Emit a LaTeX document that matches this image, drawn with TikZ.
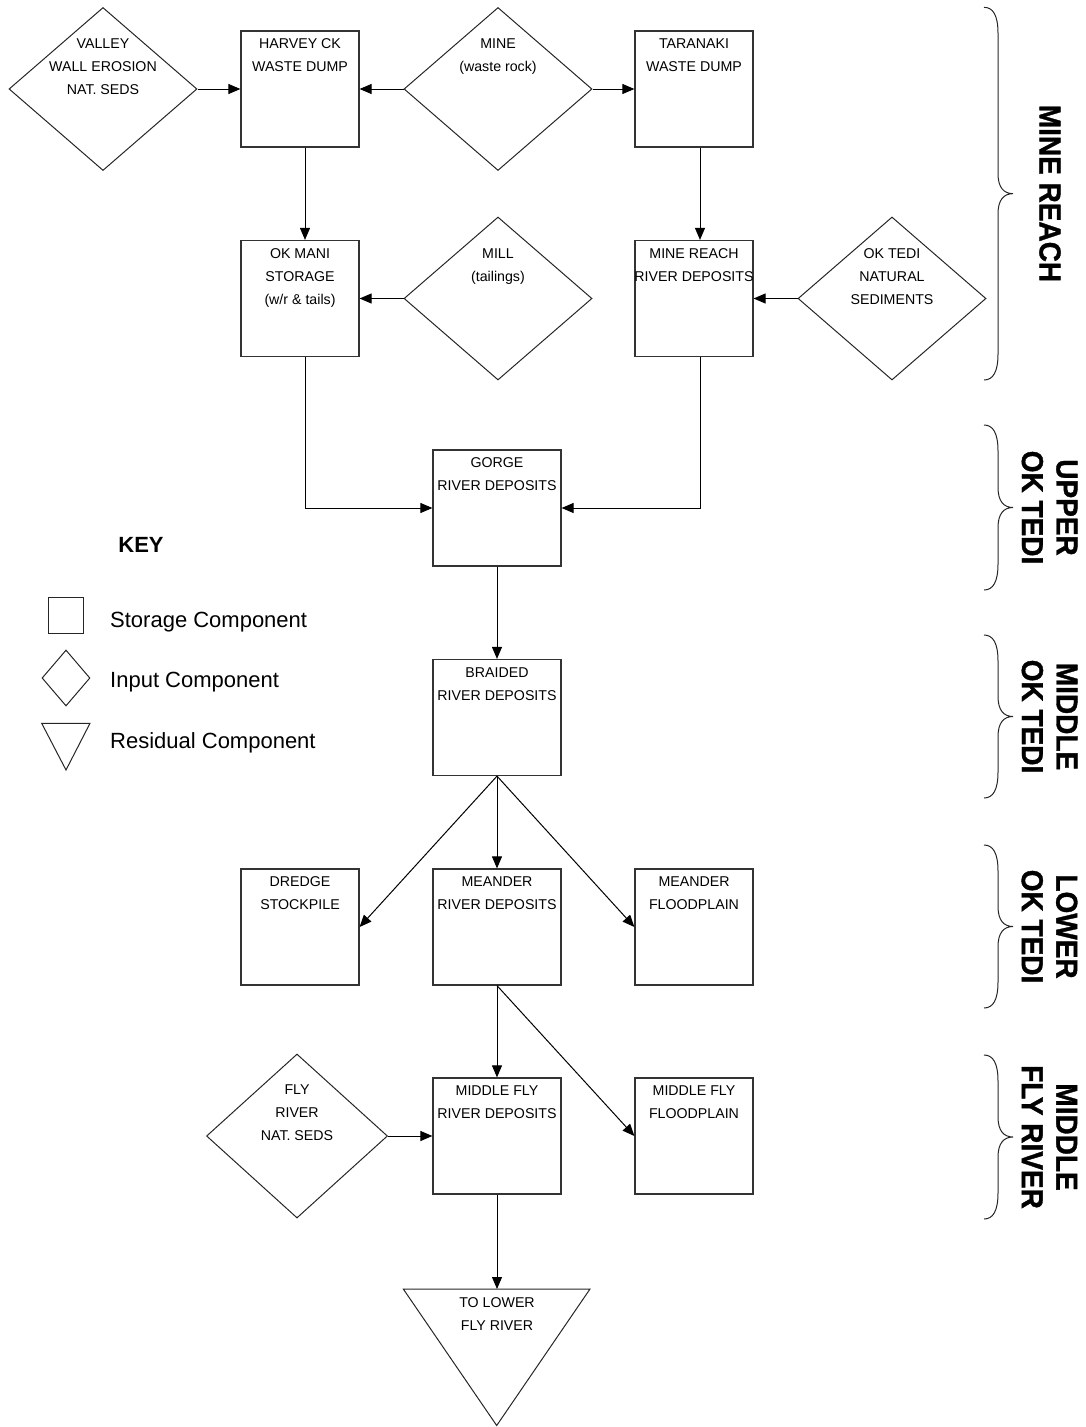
\documentclass[tikz,border=0pt]{standalone}
\usepackage{fontspec}
\setmainfont{Liberation Sans}
\newfontfamily\reachfont[FakeBold=1.2]{Liberation Sans Bold}
\usetikzlibrary{shapes.geometric,arrows.meta}
\newcommand\myBrace[2]{%
  \pgfmathsetmacro\tipy{(#1+#2)/2}%
  \draw[bracestyle] (984,#1) .. controls (993,#1) and (998,#1+8) .. (998,#1+26)
    -- (998,\tipy-20) .. controls (998,\tipy-6) and (1004,\tipy) .. (1013,\tipy)
    .. controls (1004,\tipy) and (998,\tipy+6) .. (998,\tipy+20)
    -- (998,#2-26) .. controls (998,#2-8) and (993,#2) .. (984,#2);%
}
\begin{document}
\begin{tikzpicture}[x=1pt,y=-1pt,
  box/.style={draw=black!80, line width=1.2pt, minimum width=118pt, minimum height=116pt, inner sep=0pt},
  wbox/.style={box, minimum width=128pt},
  dia/.style={draw=black!85, line width=1pt, diamond, inner sep=0pt, minimum width=188pt, minimum height=163pt},
  lbl/.style={anchor=north, inner sep=0pt, align=center, font=\fontsize{14.2}{23}\selectfont},
  arr/.style={line width=1pt, -{Triangle[length=12pt,width=10pt]}},
  reach/.style={rotate=-90, yscale=1.08, align=center, inner sep=0pt, font=\fontsize{28}{32}\selectfont\reachfont},
  bracestyle/.style={line width=1pt, black!85},
  keytxt/.style={anchor=base west, inner sep=0pt, font=\fontsize{22}{22}\selectfont}
]
\useasboundingbox (0,0) rectangle (1085,1427);

% storage boxes
\node[box]  (harvey)    at (300,89)    {};
\node[box]  (taranaki)  at (694,89)    {};
\node[box]  (okmani)    at (300,298.5) {};
\node[box]  (minereach) at (694,298.5) {};
\node[wbox] (gorge)     at (497,508)   {};
\node[wbox] (braided)   at (497,717.5) {};
\node[box]  (dredge)    at (300,927)   {};
\node[wbox] (meander)   at (497,927)   {};
\node[box]  (meanfp)    at (694,927)   {};
\node[wbox] (midfly)    at (497,1136)  {};
\node[box]  (midflyfp)  at (694,1136)  {};

% input diamonds
\node[dia] (valley) at (103,89)    {};
\node[dia] (mine)   at (498,89)    {};
\node[dia] (mill)   at (498,298.5) {};
\node[dia] (oktedi) at (892,298.5) {};
\node[dia, minimum width=181pt, minimum height=164pt] (fly) at (297,1136) {};

% residual triangle
\draw[draw=black!85, line width=1pt] (403.3,1289) -- (590,1289) -- (496.7,1425.5) -- cycle;
\coordinate (tritop) at (497,1289);

% labels in boxes
\node[lbl] (harveyT)    at ([yshift=-8pt]harvey.north)    {\rule{0pt}{10pt}HARVEY CK\\WASTE DUMP};
\node[lbl] (taranakiT)  at ([yshift=-8pt]taranaki.north)  {\rule{0pt}{10pt}TARANAKI\\WASTE DUMP};
\node[lbl] (okmaniT)    at ([yshift=-8pt]okmani.north)    {\rule{0pt}{10pt}OK MANI\\STORAGE\\(w/r \& tails)};
\node[lbl] (minereachT) at ([yshift=-8pt]minereach.north) {\rule{0pt}{10pt}MINE REACH\\RIVER DEPOSITS};
\node[lbl] (gorgeT)     at ([yshift=-8pt]gorge.north)     {\rule{0pt}{10pt}GORGE\\RIVER DEPOSITS};
\node[lbl] (braidedT)   at ([yshift=-8pt]braided.north)   {\rule{0pt}{10pt}BRAIDED\\RIVER DEPOSITS};
\node[lbl] (dredgeT)    at ([yshift=-8pt]dredge.north)    {\rule{0pt}{10pt}DREDGE\\STOCKPILE};
\node[lbl] (meanderT)   at ([yshift=-8pt]meander.north)   {\rule{0pt}{10pt}MEANDER\\RIVER DEPOSITS};
\node[lbl] (meanfpT)    at ([yshift=-8pt]meanfp.north)    {\rule{0pt}{10pt}MEANDER\\FLOODPLAIN};
\node[lbl] (midflyT)    at ([yshift=-8pt]midfly.north)    {\rule{0pt}{10pt}MIDDLE FLY\\RIVER DEPOSITS};
\node[lbl] (midflyfpT)  at ([yshift=-8pt]midflyfp.north)  {\rule{0pt}{10pt}MIDDLE FLY\\FLOODPLAIN};
\node[lbl] (triT)       at ([yshift=-8pt]tritop)          {\rule{0pt}{10pt}TO LOWER\\FLY RIVER};

% labels in diamonds
\node[lbl] (valleyT) at ([yshift=-31.5pt]valley.north) {\rule{0pt}{10pt}VALLEY\\WALL EROSION\\NAT. SEDS};
\node[lbl] (mineT)   at ([yshift=-31.5pt]mine.north)   {\rule{0pt}{10pt}MINE\\(waste rock)};
\node[lbl] (millT)   at ([yshift=-31.5pt]mill.north)   {\rule{0pt}{10pt}MILL\\(tailings)};
\node[lbl] (oktediT) at ([yshift=-31.5pt]oktedi.north) {\rule{0pt}{10pt}OK TEDI\\NATURAL\\SEDIMENTS};
\node[lbl] (flyT)    at ([yshift=-31pt]fly.north)      {\rule{0pt}{10pt}FLY\\RIVER\\NAT. SEDS};

% connectors
\draw[arr] (valley.east) -- (harvey.west);
\draw[arr] (mine.west) -- (harvey.east);
\draw[arr] (mine.east) -- (taranaki.west);
\draw[arr] ([xshift=5pt]harvey.south) -- ([xshift=5pt]okmani.north);
\draw[arr] ([xshift=6pt]taranaki.south) -- ([xshift=6pt]minereach.north);
\draw[arr] (mill.west) -- (okmani.east);
\draw[arr] (oktedi.west) -- (minereach.east);
\draw[arr] ([xshift=5pt]okmani.south) |- (gorge.west);
\draw[arr] ([xshift=6pt]minereach.south) |- (gorge.east);
\draw[arr] (gorge.south) -- (braided.north);
\draw[arr] (braided.south) -- (dredge.east);
\draw[arr] (braided.south) -- (meander.north);
\draw[arr] (braided.south) -- (meanfp.west);
\draw[arr] (meander.south) -- (midfly.north);
\draw[arr] (meander.south) -- (midflyfp.west);
\draw[arr] (fly.east) -- (midfly.west);
\draw[arr] (midfly.south) -- (tritop);

% key
\node[font=\fontsize{22}{22}\selectfont\bfseries, inner sep=0pt] (keyT) at (141,545) {KEY};
\node[draw=black!85, line width=1pt, minimum width=35pt, minimum height=36pt, inner sep=0pt] (keybox) at (65.8,615.3) {};
\node[draw=black!85, line width=1pt, diamond, minimum width=48pt, minimum height=56pt, inner sep=0pt] (keydia) at (66,678) {};
\draw[draw=black!85, line width=1pt] (41.7,723.3) -- (90,723.3) -- (66,770) -- cycle;
\node[keytxt] (k1) at (110,627) {Storage Component};
\node[keytxt] (k2) at (110,687.3) {Input Component};
\node[keytxt] (k3) at (110,748) {Residual Component};

% braces and reach labels
\myBrace{7.3}{380}
\myBrace{425}{590}
\myBrace{635}{798}
\myBrace{845}{1008}
\myBrace{1055}{1219}
\node[reach] (lblmine)   at (1050,193.5)  {MINE REACH};
\node[reach] (lblupper)  at (1049.5,507.5) {UPPER\\OK TEDI};
\node[reach] (lblmiddle) at (1049.5,716.5) {MIDDLE\\OK TEDI};
\node[reach] (lbllower)  at (1049.5,926.5) {LOWER\\OK TEDI};
\node[reach] (lblfly)    at (1049.5,1137)  {MIDDLE\\FLY RIVER};
\end{tikzpicture}
\end{document}
